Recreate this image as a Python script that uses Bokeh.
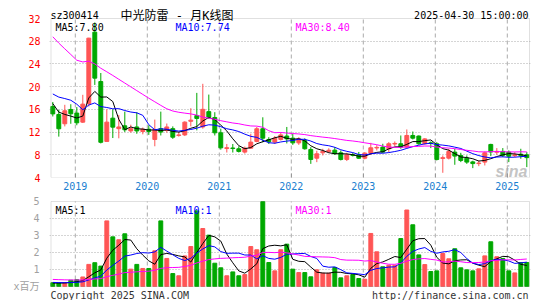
import numpy as np
from bokeh.plotting import figure
from bokeh.layouts import column
from bokeh.models import Range1d, FixedTicker, Label, ColumnDataSource, BoxAnnotation
from bokeh.embed import file_html
from bokeh.resources import INLINE

# ---------------- data (monthly K line, 2018-09 .. 2025-04) ----------------
first_month = (2018, 9)

open_ = [16.5, 15.1, 13.46, 15.98, 15.34, 13.75, 17.0, 29.6, 20.9, 10.35,
         14.45, 12.6, 13.1, 12.2, 12.9, 12.1, 12.5, 10.7, 12.58, 12.28,
         12.6, 11.4, 11.5, 13.9, 14.9, 12.9, 15.6, 14.57, 11.87, 9.1,
         9.2, 9.06, 8.47, 9.17, 10.35, 12.58, 10.7, 10.23, 10.7, 11.3,
         10.93, 10.1, 10.5, 8.94, 7.4, 8.35, 8.6, 8.82, 8.35, 7.18,
         8.0, 8.0, 7.4, 8.29, 9.2, 9.35, 9.06, 9.9, 9.94, 9.35,
         11.4, 11.3, 9.94, 10.1, 9.94, 7.35, 7.41, 8.47, 7.88, 7.41,
         6.75, 6.45, 6.71, 9.82, 8.45, 8.59, 8.47, 7.85, 8.1, 8.0]
high = [17.3, 15.9, 16.8, 16.9, 16.4, 18.56, 28.6, 31.3, 22.4, 16.0,
        16.0, 15.0, 15.6, 13.3, 15.5, 12.8, 13.2, 14.2, 15.6, 13.5,
        13.0, 12.0, 13.9, 16.2, 18.9, 20.5, 18.6, 15.5, 12.6, 9.9,
        9.9, 9.5, 9.45, 11.7, 12.9, 14.6, 11.1, 11.3, 11.95, 12.9,
        11.7, 11.1, 10.9, 9.35, 8.7, 9.06, 9.15, 9.35, 8.76, 8.35,
        8.3, 8.5, 8.47, 10.1, 9.7, 9.94, 10.23, 10.35, 11.4, 12.46,
        12.1, 11.4, 10.93, 10.35, 10.23, 7.88, 9.06, 9.06, 8.35, 7.88,
        6.95, 7.0, 8.59, 9.94, 9.18, 9.18, 8.76, 8.47, 9.06, 8.47]
low = [14.75, 11.2, 13.0, 13.46, 13.2, 13.6, 16.5, 20.3, 10.0, 10.3,
       10.95, 10.9, 12.0, 11.9, 11.7, 11.6, 11.5, 9.5, 11.4, 11.9,
       10.8, 11.2, 11.3, 13.0, 12.3, 12.6, 14.3, 11.4, 8.9, 8.4,
       8.4, 8.4, 8.2, 9.1, 10.2, 10.2, 9.9, 9.9, 10.5, 10.0,
       9.75, 9.75, 8.9, 6.4, 6.7, 7.88, 8.35, 8.0, 7.0, 6.9,
       7.7, 7.3, 7.2, 7.98, 8.76, 8.35, 8.47, 9.53, 9.06, 9.2,
       10.7, 9.76, 9.76, 9.18, 7.0, 4.83, 7.18, 6.24, 6.71, 6.4,
       5.65, 6.0, 6.12, 7.77, 8.0, 7.59, 6.71, 7.59, 7.3, 5.83]
close = [15.2, 12.58, 15.75, 15.22, 13.63, 16.92, 28.54, 21.5, 10.2, 13.75,
         12.87, 12.9, 12.4, 12.6, 12.2, 12.5, 12.1, 12.46, 12.0, 12.9,
         11.1, 11.5, 13.75, 14.1, 14.4, 16.0, 14.63, 11.87, 9.23, 9.25,
         9.1, 8.6, 9.17, 10.23, 12.58, 10.93, 10.3, 10.93, 11.5, 10.8,
         10.1, 10.8, 9.06, 7.18, 8.17, 8.6, 8.8, 8.18, 7.18, 8.0,
         7.9, 7.4, 8.29, 9.23, 9.3, 8.47, 9.94, 10.0, 9.35, 11.4,
         10.93, 9.94, 10.8, 10.0, 7.18, 7.5, 8.59, 7.77, 7.0, 6.71,
         6.45, 6.55, 8.35, 8.5, 8.6, 7.9, 7.75, 8.0, 7.85, 7.5]
volume = [0.22, 0.2, 0.22, 0.37, 0.4, 0.56, 1.3, 1.4, 1.2, 3.86,
          2.92, 2.75, 3.1, 1.02, 1.3, 1.06, 1.06, 2.1, 3.86, 1.65,
          0.76, 0.63, 1.8, 2.35, 4.45, 3.41, 3.02, 1.37, 1.1, 0.63,
          0.86, 0.63, 0.7, 2.35, 2.16, 5.3, 1.41, 0.92, 2.16, 2.49,
          1.02, 0.82, 0.82, 0.57, 0.98, 0.78, 0.78, 1.12, 0.51, 0.63,
          0.7, 0.47, 0.43, 3.12, 2.04, 1.16, 1.25, 1.25, 2.82, 4.5,
          3.63, 1.86, 1.29, 0.88, 0.92, 1.94, 1.63, 2.22, 1.1, 0.98,
          0.92, 1.04, 1.8, 2.63, 1.75, 1.65, 0.92, 0.8, 1.41, 1.41]

# history before the first visible month (only feeds the moving averages)
prior_close = [46, 46, 45, 44, 26, 24, 36.5, 33, 32.5, 32.3,
               33, 32.5, 32.5, 32.2, 32.5, 32, 31.5, 31, 30.9, 22.9,
               18.1, 18.3, 18.2, 20.6, 26.8, 20.1, 17.8, 16.7, 15.3]
prior_volume = [0.62, 0.55, 0.58, 0.5, 0.47, 0.52, 0.45, 0.5, 0.55, 0.48,
                0.52, 0.5, 0.46, 0.49, 0.5, 0.47, 0.52, 0.48, 0.45, 0.5,
                0.3, 0.28, 0.27, 0.3, 0.25, 0.2, 0.19, 0.21, 0.18]

price_ticks = [4, 8, 12, 16, 20, 24, 28, 32]
volume_ticks = [0, 1, 2, 3, 4, 5]
year_ticks = [2019, 2020, 2021, 2022, 2023, 2024, 2025]
ma_periods = [5, 10, 30]
price_ma_last = ["7.80", "7.74", "8.40"]
volume_ma_last = ["1", "1", "1"]

code = "sz300414"
title_text = "中光防雷 - 月K线图"
stamp = "2025-04-30 15:00:00"
volume_unit = "x百万"
copyright_text = "Copyright 2025 SINA.COM"
site_text = "http://finance.sina.com.cn"

# ---------------- styling ----------------
UP = "#FF5555"
DOWN = "#00A800"
MA_COLORS = ["#000000", "#0000FF", "#FF00FF"]
FRAME = "#999999"
GRID = "#AAAAAA"
MONO = "DejaVu Sans Mono"
MONO_CJK = "DejaVu Sans Mono, Noto Sans CJK SC"

# ---------------- derived ----------------
n = len(close)
y0, m0 = first_month
xs = []
for i in range(n):
    mm = m0 - 1 + i
    yy, mo = y0 + mm // 12, mm % 12 + 1
    xs.append(yy + (mo - 0.75) / 12.0)


def moving_average(prior, vals, w):
    full = np.array(list(prior) + list(vals), dtype=float)
    k = len(prior)
    return [float(full[i - w + 1:i + 1].mean()) for i in range(k, k + len(vals))]


colors = [UP if c >= o else DOWN for o, c in zip(open_, close)]
vmax = volume_ticks[-1]
src = ColumnDataSource(dict(
    x=xs, high=high, low=low,
    top=[max(o, c) for o, c in zip(open_, close)],
    bottom=[min(o, c) for o, c in zip(open_, close)],
    vol=[min(v, vmax) for v in volume], color=colors,
))
bar_w = 0.65 / 12.0

# layout geometry (pixels)
W, H1, H2 = 545, 195, 105
FL, FW = 49, 481            # frame left / width (both panels)
PX_PER_YEAR = 72.0
x_start = 2018.6417
xr = Range1d(x_start, x_start + FW / PX_PER_YEAR)
box_l = x_start + 1.5 / PX_PER_YEAR
box_r = x_start + 480 / PX_PER_YEAR

# price panel: visible box 4..32 spans y 18..177; frame extends to the top edge for header texts
p_top_px, p_box_top, p_box_bot = 0, 18, 177
ppu = (p_box_bot - p_box_top) / (price_ticks[-1] - price_ticks[0])
p1_yr = Range1d(price_ticks[0], price_ticks[-1] + (p_box_top - p_top_px) / ppu)

p1 = figure(width=W, height=H1, frame_width=FW, frame_height=p_box_bot - p_top_px,
            x_range=xr, y_range=p1_yr, output_backend="svg", toolbar_location=None,
            min_border_left=FL, min_border_right=W - FL - FW, min_border_top=0,
            min_border_bottom=H1 - p_box_bot)
p1.outline_line_color = None
p1.background_fill_color = "white"
p1.border_fill_color = "white"

p1.yaxis.ticker = FixedTicker(ticks=price_ticks)
p1.yaxis.major_label_text_color = "#FF0000"
p1.yaxis.major_label_text_font = MONO
p1.yaxis.major_label_text_font_size = "10px"
p1.yaxis.axis_line_color = None
p1.yaxis.major_tick_line_color = None
p1.yaxis.minor_tick_line_color = None
p1.yaxis.major_label_standoff = 3

p1.xaxis.ticker = FixedTicker(ticks=year_ticks)
p1.xaxis.major_label_text_color = "#1A80D0"
p1.xaxis.major_label_text_font = MONO
p1.xaxis.major_label_text_font_size = "10px"
p1.xaxis.axis_line_color = None
p1.xaxis.major_tick_in = 4
p1.xaxis.major_tick_out = 0
p1.xaxis.major_tick_line_color = FRAME
p1.xaxis.minor_tick_line_color = None
p1.xaxis.major_label_standoff = 4

p1.xgrid.grid_line_color = None
p1.ygrid.ticker = FixedTicker(ticks=price_ticks[1:-1])
p1.ygrid.grid_line_color = GRID
p1.ygrid.grid_line_dash = "1 2"

p1.segment(x0=year_ticks, y0=[price_ticks[0]] * len(year_ticks), x1=year_ticks,
           y1=[price_ticks[-1]] * len(year_ticks), line_color=GRID, line_dash="4 3", line_width=1)

p1.add_layout(Label(x=xr.end, y=price_ticks[0], text="sina", text_align="right",
                    text_baseline="alphabetic", x_offset=-3, y_offset=6,
                    text_font="Liberation Sans", text_font_size="16px",
                    text_font_style="bold italic", text_color="#C4C4C4", level="underlay"))

p1.segment("x", "high", "x", "low", source=src, line_color="color", line_width=1)
p1.vbar(x="x", width=bar_w, top="top", bottom="bottom", source=src,
        fill_color="color", line_color="color", line_width=1)

for w, col in zip(ma_periods, MA_COLORS):
    p1.line(xs, moving_average(prior_close, close, w), line_color=col, line_width=1)

p1.add_layout(BoxAnnotation(left=box_l, right=box_r, bottom=price_ticks[0], top=price_ticks[-1],
                            fill_alpha=0, line_color=FRAME, line_width=1))

# header texts (inside the extended frame, above the box)
p1.add_layout(Label(x=xr.start, y=price_ticks[-1], text=code, x_offset=1, y_offset=3,
                    text_baseline="alphabetic", text_font=MONO, text_font_size="10px",
                    text_color="#000000"))
p1.add_layout(Label(x=xr.start, y=price_ticks[-1], text=title_text, x_offset=71, y_offset=3,
                    text_baseline="alphabetic", text_font=MONO_CJK, text_font_size="12px",
                    text_color="#000000"))
p1.add_layout(Label(x=xr.end, y=price_ticks[-1], text=stamp, x_offset=-2, y_offset=3,
                    text_align="right", text_baseline="alphabetic", text_font=MONO,
                    text_font_size="10px", text_color="#000000"))
for i, (w, col, v) in enumerate(zip(ma_periods, MA_COLORS, price_ma_last)):
    p1.add_layout(Label(x=xr.start, y=price_ticks[-1], text=f"MA{w}:{v}",
                        x_offset=6 + 120 * i, y_offset=-9, text_baseline="alphabetic",
                        text_font=MONO, text_font_size="10px", text_color=col))

# volume panel: box 0..5 spans y 201..286 (page); frame extends to the bottom edge for the footer
v_frame_top, v_box_top, v_box_bot, v_bottom = 200, 201, 286, 300
vpu = (v_box_bot - v_box_top) / (volume_ticks[-1] - volume_ticks[0])
p2_yr = Range1d(volume_ticks[0] - (v_bottom - v_box_bot) / vpu,
                volume_ticks[-1] + (v_box_top - v_frame_top) / vpu)

p2 = figure(width=W, height=H2, frame_width=FW, frame_height=v_bottom - v_frame_top,
            x_range=xr, y_range=p2_yr, output_backend="svg", toolbar_location=None,
            x_axis_location=None, min_border_left=FL, min_border_right=W - FL - FW,
            min_border_top=v_frame_top - H1, min_border_bottom=0)
p2.outline_line_color = None

p2.yaxis.ticker = FixedTicker(ticks=volume_ticks)
p2.yaxis.major_label_overrides = {0: volume_unit}
p2.yaxis.major_label_text_color = "#A0A0A0"
p2.yaxis.major_label_text_font = MONO_CJK
p2.yaxis.major_label_text_font_size = "10px"
p2.yaxis.axis_line_color = None
p2.yaxis.major_tick_line_color = None
p2.yaxis.minor_tick_line_color = None
p2.yaxis.major_label_standoff = 4

p2.xgrid.grid_line_color = None
p2.ygrid.ticker = FixedTicker(ticks=volume_ticks[1:-1])
p2.ygrid.grid_line_color = GRID
p2.ygrid.grid_line_dash = "1 2"

p2.segment(x0=year_ticks, y0=[volume_ticks[0]] * len(year_ticks), x1=year_ticks,
           y1=[volume_ticks[-1]] * len(year_ticks), line_color=GRID, line_dash="4 3", line_width=1)

p2.vbar(x="x", width=bar_w, top="vol", bottom=0, source=src,
        fill_color="color", line_color="color", line_width=1)
for w, col in zip(ma_periods, MA_COLORS):
    p2.line(xs, moving_average(prior_volume, volume, w), line_color=col, line_width=1)

p2.add_layout(BoxAnnotation(left=box_l, right=box_r, bottom=volume_ticks[0], top=volume_ticks[-1],
                            fill_alpha=0, line_color=FRAME, line_width=1))

for i, (w, col, v) in enumerate(zip(ma_periods, MA_COLORS, volume_ma_last)):
    p2.add_layout(Label(x=xr.start, y=volume_ticks[-1], text=f"MA{w}:{v}",
                        x_offset=6 + 120 * i, y_offset=-9, text_baseline="alphabetic",
                        text_font=MONO, text_font_size="10px", text_color=col))

p2.add_layout(Label(x=xr.start, y=volume_ticks[0], text=copyright_text, x_offset=1, y_offset=-9,
                    text_baseline="alphabetic", text_font=MONO, text_font_size="10px",
                    text_color="#333333"))
p2.add_layout(Label(x=xr.end, y=volume_ticks[0], text=site_text, x_offset=-2, y_offset=-9,
                    text_align="right", text_baseline="alphabetic", text_font=MONO,
                    text_font_size="10px", text_color="#333333"))

layout = column(p1, p2, spacing=0)
open("out.html", "w").write(file_html(layout, INLINE))
